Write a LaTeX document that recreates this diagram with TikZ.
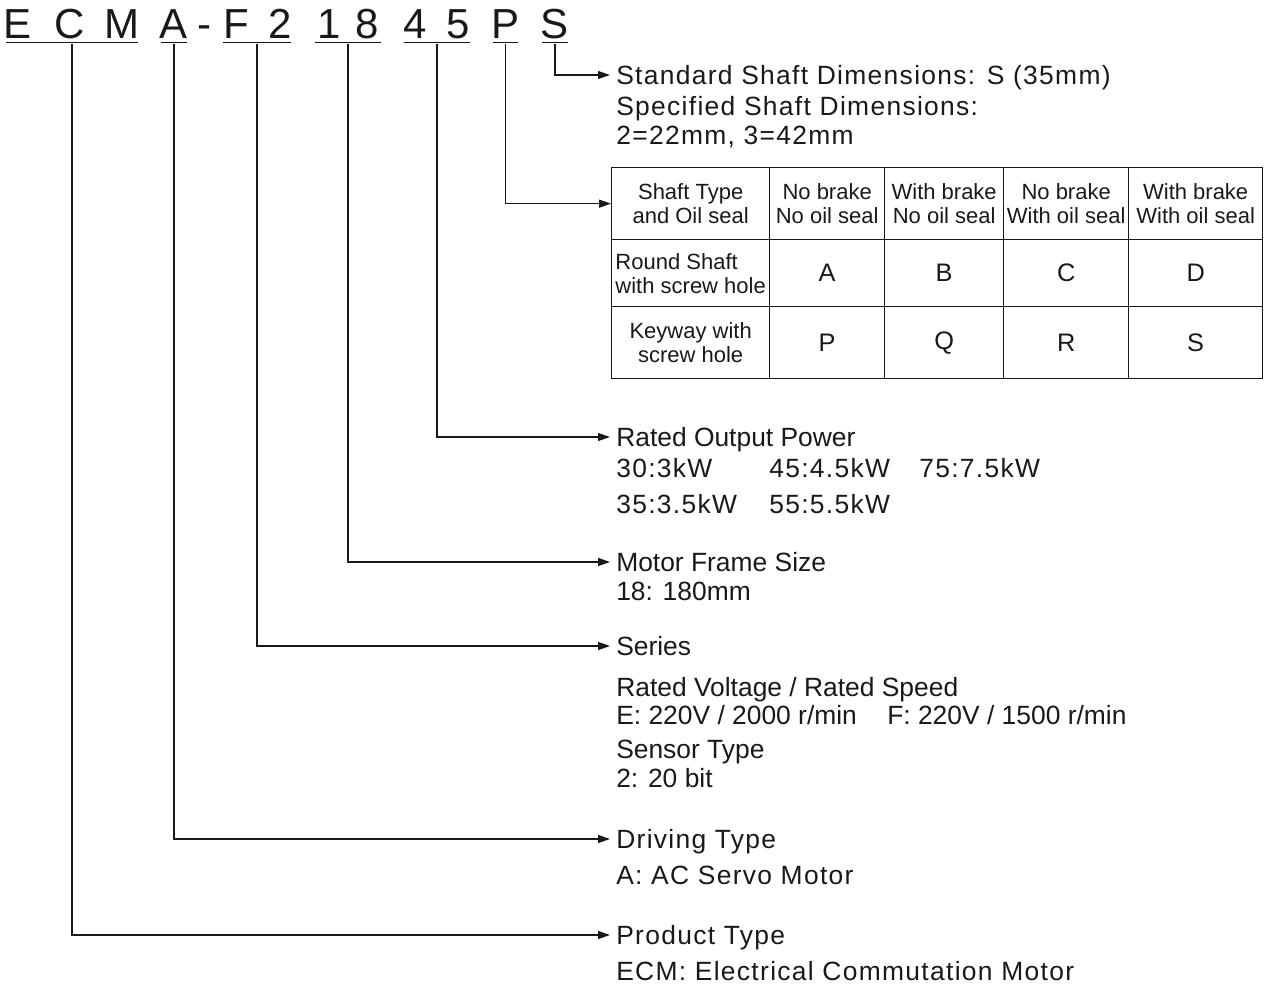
\documentclass[tikz,border=0pt]{standalone}
\usepackage{fontspec}
\setmainfont{Liberation Sans}
\newfontfamily\spacedfont[LetterSpace=5]{Liberation Sans}
\usetikzlibrary{arrows.meta}

\begin{document}
\begin{tikzpicture}[x=0.75pt,y=0.75pt,yscale=-1,xscale=1,
  every node/.style={text=black!90},
  code/.style={anchor=base, inner sep=0pt, font=\fontsize{31.5}{34}\selectfont},
  uline/.style={rectangle, fill=black!90, inner sep=0pt, minimum height=1.3pt},
  lead/.style={draw=black!90, line width=0.9pt, -{Triangle[length=9pt,width=6pt]}},
  head/.style={anchor=west, inner xsep=4.5pt, inner ysep=0pt, text height=14pt, text depth=0pt},
  info/.style={anchor=base west, inner sep=0pt},
  plain/.style={font=\fontsize{19.8}{23}\selectfont},
  wide/.style={font=\spacedfont\fontsize{19.8}{23}\selectfont},
  cell/.style={draw=black!90, line width=1pt, anchor=north west, inner sep=0pt, align=center},
  hdr/.style={font=\fontsize{16.5}{18}\selectfont},
  letterbox/.style={font=\fontsize{19}{22}\selectfont}
]
\useasboundingbox (0,0) rectangle (1267,985);

%Model code letters
\foreach \ch/\x/\nm in {E/18/E, C/69.5/C, M/122/M, A/174/A, -/204/Dash, F/236/F,
    2/280/Two, 1/329/One, 8/367/Eight, 4/415/Four, 5/458/Five, P/506/P, S/555/S}
  \node[code] (c\nm) at (\x,38) {\ch};

%Underlines of the code groups
\foreach \nm/\x/\w in {ECM/72/99, A/174/19.5, F2/257/51, 18/348/49.5,
    45/437/49.5, P/505.5/18.75, S/555/19.5}
  \node[uline, minimum width=\w pt] (u\nm) at (\x,42.5) {};

% Text Node
\node[head, wide] (dShaft) at (610,75) {Standard Shaft Dimensions: S (35mm)};
\node[info, wide] (dShaftA) at (616,115) {Specified Shaft Dimensions:};
\node[info, wide] (dShaftB) at (616,144) {2=22mm, 3=42mm};

%Table of shaft type and oil seal
\node[cell, hdr, minimum width=118.5pt, minimum height=54pt] (t11) at (611,167) {Shaft Type\\and Oil seal};
\node[cell, hdr, minimum width=86.25pt, minimum height=54pt] (t12) at (769,167) {No brake\\No oil seal};
\node[cell, hdr, minimum width=89.25pt, minimum height=54pt] (t13) at (884,167) {With brake\\No oil seal};
\node[cell, hdr, minimum width=93.75pt, minimum height=54pt] (t14) at (1003,167) {No brake\\With oil seal};
\node[cell, hdr, minimum width=100.5pt, minimum height=54pt] (t15) at (1128,167) {With brake\\With oil seal};
\node[cell, hdr, align=left, minimum width=118.5pt, minimum height=50.25pt] (t21) at (611,239) {Round Shaft\\with screw hole};
\node[cell, letterbox, minimum width=86.25pt, minimum height=50.25pt] (t22) at (769,239) {A};
\node[cell, letterbox, minimum width=89.25pt, minimum height=50.25pt] (t23) at (884,239) {B};
\node[cell, letterbox, minimum width=93.75pt, minimum height=50.25pt] (t24) at (1003,239) {C};
\node[cell, letterbox, minimum width=100.5pt, minimum height=50.25pt] (t25) at (1128,239) {D};
\node[cell, hdr, minimum width=118.5pt, minimum height=54pt] (t31) at (611,306) {Keyway with\\screw hole};
\node[cell, letterbox, minimum width=86.25pt, minimum height=54pt] (t32) at (769,306) {P};
\node[cell, letterbox, minimum width=89.25pt, minimum height=54pt] (t33) at (884,306) {Q};
\node[cell, letterbox, minimum width=93.75pt, minimum height=54pt] (t34) at (1003,306) {R};
\node[cell, letterbox, minimum width=100.5pt, minimum height=54pt] (t35) at (1128,306) {S};

% Text Node
\node[head, plain] (dPower) at (610,437) {Rated Output Power};
\node[info, wide] (dPowA) at (616,477) {30:3kW};
\node[info, wide] (dPowB) at (769,477) {45:4.5kW};
\node[info, wide] (dPowC) at (919,477) {75:7.5kW};
\node[info, wide] (dPowD) at (616,513) {35:3.5kW};
\node[info, wide] (dPowE) at (769,513) {55:5.5kW};

% Text Node
\node[head, plain] (dFrame) at (610,562) {Motor Frame Size};
\node[info, plain] (dFrameA) at (616,600) {18: 180mm};

% Text Node
\node[head, plain] (dSeries) at (610,646) {Series};
\node[info, plain] (dVolt) at (616,696) {Rated Voltage / Rated Speed};
\node[info, plain] (dVoltE) at (616,724) {E: 220V / 2000 r/min};
\node[info, plain] (dVoltF) at (887,724) {F: 220V / 1500 r/min};
\node[info, plain] (dSensor) at (616,758) {Sensor Type};
\node[info, plain] (dSensorA) at (616,787) {2: 20 bit};

% Text Node
\node[head, wide] (dDrive) at (610,839) {Driving Type};
\node[info, wide] (dDriveA) at (616,884) {A: AC Servo Motor};

% Text Node
\node[head, wide] (dProd) at (610,935) {Product Type};
\node[info, wide] (dProdA) at (616,980) {ECM: Electrical Commutation Motor};

%Leader lines from the code groups
\foreach \g/\t in {S/dShaft, P/t11, 45/dPower, 18/dFrame, F2/dSeries, A/dDrive, ECM/dProd}
  \draw[lead] (u\g.south) |- (\t.west);

\end{tikzpicture}
\end{document}
